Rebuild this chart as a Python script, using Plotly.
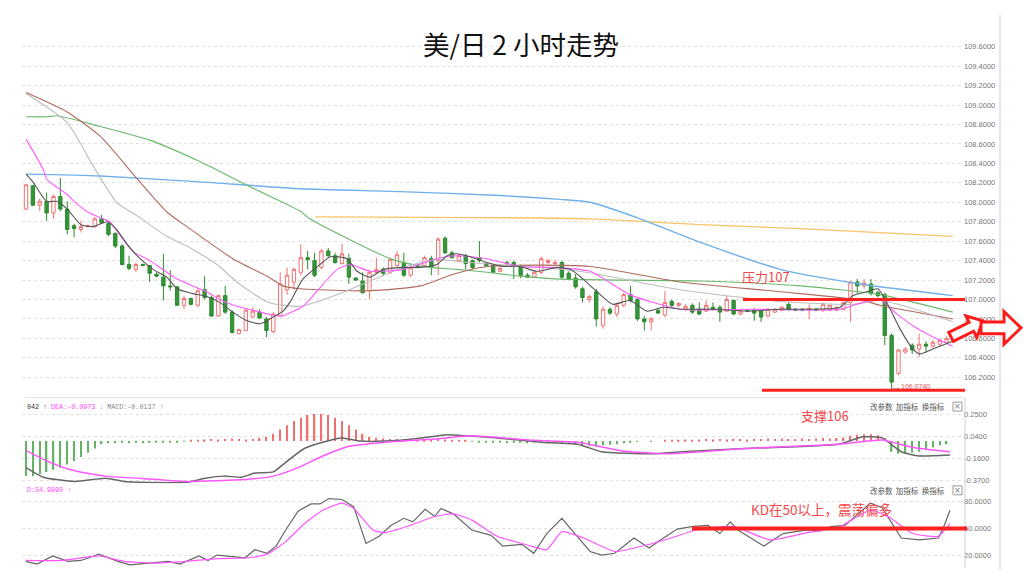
import math
import plotly.graph_objects as go

# ---------------- data ----------------
opens = [107.93,108.17,107.97,108.01,107.89,108.06,107.93,107.76,107.72,107.75,
         107.75,107.83,107.78,107.68,107.55,107.36,107.31,107.36,107.35,107.26,
         107.23,107.14,107.13,106.94,107.01,106.94,107.10,107.02,106.83,107.04,
         106.87,106.65,106.68,106.82,106.87,106.80,106.67,106.83,107.10,107.18,
         107.28,107.43,107.40,107.33,107.50,107.45,107.37,107.42,107.22,107.19,
         107.09,107.28,107.31,107.28,107.35,107.38,107.25,107.35,107.35,107.42,
         107.40,107.63,107.48,107.40,107.45,107.40,107.43,107.37,107.35,107.29,
         107.38,107.38,107.35,107.25,107.23,107.28,107.38,107.37,107.38,107.27,
         107.22,107.11,107.00,107.08,106.73,106.90,106.85,106.94,107.05,107.00,
         106.80,106.77,106.89,106.84,106.98,106.94,106.90,106.94,106.90,106.88,
         106.92,106.92,106.88,106.99,106.85,106.89,106.89,106.89,106.83,106.87,
         106.89,106.95,106.90,106.90,106.89,106.90,106.89,106.89,106.89,106.90,
         106.97,107.18,107.14,107.16,107.07,107.05,106.63,106.24,106.46,106.53,
         106.49,106.54,106.52,106.54,106.56]
highs = [108.19,108.18,108.04,108.10,108.08,108.25,108.01,107.78,107.81,107.77,
         107.85,107.87,107.79,107.69,107.57,107.45,107.38,107.37,107.35,107.28,
         107.47,107.30,107.14,107.04,107.02,107.12,107.24,107.04,107.05,107.14,
         106.89,106.70,106.90,106.92,106.90,106.82,106.87,107.28,107.33,107.33,
         107.57,107.50,107.48,107.52,107.53,107.48,107.57,107.47,107.23,107.28,
         107.30,107.43,107.33,107.43,107.50,107.48,107.35,107.37,107.45,107.45,
         107.64,107.65,107.50,107.47,107.47,107.41,107.60,107.38,107.36,107.34,
         107.40,107.40,107.36,107.27,107.30,107.44,107.42,107.41,107.40,107.29,
         107.26,107.13,107.05,107.11,106.93,106.92,106.97,107.07,107.14,107.01,
         106.83,106.82,106.91,107.09,107.00,106.97,106.95,106.96,106.97,106.99,
         106.97,106.94,107.04,107.00,106.89,106.90,106.91,106.90,106.91,106.91,
         106.93,106.97,106.91,106.91,106.95,106.91,106.97,106.94,106.93,106.97,
         107.19,107.21,107.21,107.21,107.09,107.07,106.65,106.49,106.51,106.55,
         106.65,106.57,106.58,106.60,106.62]
lows = [107.92,107.96,107.91,107.81,107.83,107.91,107.67,107.64,107.69,107.74,
        107.74,107.78,107.65,107.53,107.35,107.30,107.28,107.34,107.18,107.23,
        106.99,107.09,106.94,106.90,106.94,106.92,107.00,106.82,106.82,106.85,
        106.65,106.64,106.68,106.81,106.80,106.61,106.65,106.82,107.05,107.10,
        107.25,107.31,107.23,107.31,107.44,107.37,107.36,107.16,107.19,107.06,
        107.00,107.26,107.24,107.26,107.33,107.23,107.23,107.32,107.33,107.25,
        107.25,107.47,107.42,107.38,107.31,107.31,107.38,107.33,107.27,107.28,
        107.35,107.21,107.22,107.22,107.22,107.26,107.36,107.35,107.21,107.20,
        107.11,106.97,106.97,106.72,106.70,106.84,106.82,106.92,106.97,106.78,
        106.68,106.68,106.85,106.82,106.92,106.92,106.88,106.85,106.84,106.87,
        106.89,106.77,106.87,106.84,106.84,106.87,106.78,106.77,106.82,106.86,
        106.88,106.88,106.88,106.88,106.80,106.88,106.87,106.88,106.88,106.89,
        106.77,107.06,107.11,107.04,107.02,106.53,106.074,106.22,106.44,106.44,
        106.41,106.45,106.50,106.52,106.54]
closes = [108.18,107.97,108.01,107.89,108.06,107.93,107.72,107.73,107.75,107.76,
          107.83,107.79,107.67,107.55,107.36,107.32,107.36,107.35,107.27,107.24,
          107.14,107.13,106.94,107.01,106.95,107.09,107.02,106.83,107.04,106.87,
          106.66,106.69,106.89,106.88,106.81,106.68,106.85,107.16,107.25,107.31,
          107.43,107.41,107.25,107.50,107.45,107.38,107.47,107.23,107.20,107.07,
          107.28,107.31,107.27,107.41,107.46,107.25,107.33,107.34,107.43,107.33,
          107.62,107.48,107.43,107.45,107.37,107.33,107.40,107.35,107.28,107.32,
          107.37,107.35,107.25,107.23,107.28,107.42,107.40,107.38,107.23,107.21,
          107.13,107.02,107.03,106.80,106.90,106.86,106.94,107.05,106.99,106.80,
          106.77,106.80,106.86,106.97,106.94,106.96,106.93,106.87,106.85,106.94,
          106.90,106.87,107.00,106.85,106.88,106.88,106.86,106.82,106.90,106.90,
          106.92,106.90,106.89,106.89,106.91,106.89,106.95,106.94,106.92,106.97,
          107.18,107.14,107.17,107.06,107.04,106.63,106.15,106.48,106.49,106.48,
          106.54,106.52,106.56,106.58,106.60]
idx = list(range(len(opens)))

ma5_x = [0,1,3,4.5,6,8,9.8,11.8,13.2,14.7,16.6,18.5,20.5,22,24.3,26.3,28.2,30.1,32.2,34.1,
         35.5,37.4,38.4,40.3,42.8,44.3,46.7,48.2,50.1,52,54.9,57.4,59.8,61.3,62.7,64.6,67.1,69.4,71.9,74.4,
         77.3,79.2,81.1,83.1,85.4,87.9,90.4,92.7,95.2,100,105,109.8,114.6,118.5,120.4,122.4,124,125.8,127.2,129.1,
         130.1,132,134.9]
ma5_y = [108.29,108.21,108.01,108.01,107.93,107.77,107.75,107.80,107.72,107.57,107.42,107.31,107.23,107.11,107.06,107.03,106.97,106.87,106.78,106.75,
         106.80,106.88,106.97,107.21,107.36,107.44,107.42,107.29,107.23,107.31,107.33,107.33,107.36,107.45,107.47,107.44,107.38,107.34,107.34,107.29,
         107.33,107.31,107.21,107.08,106.95,106.99,106.88,106.92,106.90,106.90,106.88,106.90,106.90,106.92,107.04,107.08,107.11,106.90,106.70,106.49,
         106.44,106.49,106.57]
ma10_x = [0,2.5,3,4,6,7,9,11.2,12.2,13.7,15.6,17.6,19.1,22,26.3,28.2,30.7,34.1,35.1,37.4,
          38,40.3,45.3,47.2,50.1,54.9,59.8,62.7,67.1,71.9,76.7,82.1,87.9,95.2,105,118.5,121.8,124.3,126.8,129.1,
          131.6,134.9]
ma10_y = [108.65,108.34,108.24,108.18,108.08,108.01,107.90,107.83,107.80,107.66,107.49,107.42,107.35,107.21,107.08,107.00,106.93,106.87,106.85,106.83,
          106.85,106.93,107.31,107.36,107.29,107.31,107.42,107.45,107.42,107.34,107.33,107.29,107.05,106.90,106.90,106.90,106.97,107.00,106.85,106.73,
          106.63,106.52]
ma20_x = [0,6,9.8,13.2,16.2,20.5,23.4,27.8,30.7,35.3,39.9,45.3,54.9,59.8,64.6,80.6,95.2,109.8,120.4,124.3,128,134.9]
ma20_y = [109.12,108.82,108.37,108.00,107.86,107.65,107.55,107.36,107.18,106.97,106.93,107.05,107.33,107.41,107.38,107.29,107.10,106.98,106.95,106.99,106.93,106.77]
ma30_x = [0,6,10.8,16.2,20.5,23.4,30.1,35.1,37.4,39.9,50.1,57.4,62.2,67.1,82.1,95.2,109.8,121.8,124.3,134.9]
ma30_y = [109.13,108.93,108.68,108.24,107.90,107.75,107.42,107.24,107.14,107.11,107.09,107.14,107.26,107.34,107.34,107.18,107.08,106.99,106.94,106.80]
ma60_x = [0,3.1,4.5,10.8,18,25.3,32.6,39.9,41.3,53.4,58.8,62.7,67.1,71.9,77.7,98.1,112.7,124.3,134.9]
ma60_y = [108.88,108.88,108.89,108.78,108.64,108.42,108.16,107.91,107.83,107.41,107.33,107.31,107.28,107.24,107.21,107.19,107.14,107.05,106.87]
ma120_x = [0,10.8,25.3,39.9,54.4,69,77.7,82.1,89.4,98.1,109.8,121.4,134.9]
ma120_y = [108.29,108.27,108.21,108.14,108.11,108.07,108.03,108.00,107.83,107.59,107.31,107.16,107.04]
ma250_x = [42.1,82.1,98.1,112.7,134.9]
ma250_y = [107.85,107.83,107.77,107.73,107.65]

price_ticks = [106.2,106.4,106.6,106.8,107.0,107.2,107.4,107.6,107.8,108.0,108.2,108.4,108.6,108.8,109.0,109.2,109.4,109.6]

macd_hist = [-0.33,-0.33,-0.31,-0.29,-0.27,-0.25,-0.22,-0.19,-0.15,-0.11,-0.07,
             -0.03,-0.02,-0.02,-0.015,-0.02,-0.015,-0.02,-0.015,-0.01,-0.015,-0.01,-0.01,-0.005,
             0.005,0.01,0.015,0.02,0.015,0.02,0.025,0.02,0.015,0.02,0.03,0.04,
             0.07,0.11,0.15,0.19,0.22,0.245,0.255,0.255,0.245,0.22,0.19,0.15,0.11,0.07,0.04,
             0.03,0.025,0.02,0.02,0.015,0.02,0.015,0.01,0.015,0.02,0.015,0.01,0.01,0.005,
             -0.005,-0.01,-0.015,-0.01,-0.015,-0.02,-0.015,-0.01,-0.02,-0.015,-0.01,-0.015,-0.02,-0.02,-0.025,-0.03,
             -0.04,-0.045,-0.05,-0.04,-0.035,-0.03,-0.02,-0.01,-0.005,0.0,-0.005,0.0,0.005,0.005,
             0.01,0.015,0.01,0.015,0.02,0.015,0.02,0.015,0.02,0.02,0.015,0.02,0.02,0.025,0.02,
             0.025,0.02,0.02,0.025,0.02,0.025,0.03,0.025,0.03,0.035,
             0.05,0.06,0.065,0.065,0.055,0.03,
             -0.10,-0.12,-0.12,-0.11,-0.10,-0.08,-0.06,-0.04,-0.03]
dif_x = [0,2.5,7.1,11.6,14.3,18.8,23.3,26.1,28.8,31.4,33.3,36,37.8,40.5,43.2,46,48.6,52.3,57.6,61.3,64,68.6,74.8,80.3,83.8,91.1,95.6,104.7,118.3,121.8,124.6,127.4,130,134.5]
dif_y = [-0.25,-0.34,-0.38,-0.35,-0.38,-0.39,-0.39,-0.35,-0.33,-0.34,-0.30,-0.29,-0.20,-0.07,-0.01,0.03,0.0,0.0,0.03,0.06,0.05,0.03,-0.01,-0.03,-0.10,-0.12,-0.10,-0.07,-0.03,0.04,0.03,-0.10,-0.14,-0.13]
dea_x = [0,3.5,7.1,11.6,18.8,23.3,32.3,36,39.6,43.2,46.9,52.3,59.5,64.9,73.1,80.3,86.6,93,104.7,118.3,124.6,129.1,134.5]
dea_y = [-0.09,-0.20,-0.28,-0.33,-0.36,-0.38,-0.36,-0.33,-0.25,-0.14,-0.05,-0.01,0.02,0.05,0.01,-0.01,-0.09,-0.12,-0.07,-0.03,0.01,-0.06,-0.10]
macd_ticks = [0.25,0.04,-0.16,-0.37]

k_x = [0,1.6,3.9,6.1,8,10.6,13.4,15.1,17.9,20.7,22.4,25.2,26.5,27.8,31.9,33.3,35.1,36.4,37.8,39.6,
       41.5,42.8,44.1,46,47.7,49.5,51.4,53.1,55,56.3,58.1,59.5,60.4,62.2,64.9,67.7,69.4,72.2,73.9,75.8,
       78,79.9,82.1,83.8,85.7,88.5,90.7,92.4,94.8,97.1,99.3,101,102.5,103.8,107.4,110.2,113.7,115.6,117.3,119.2,
       121.8,122.9,124.6,127.4,130,132.8,133.5,134.5]
k_y = [13,10,19,13,14,21,13,9,11,13,10,19,14,20,17,26,22,30,48,69,
       77,77,83,82,74,33,41,53,61,57,71,63,72,66,48,42,30,32,22,44,
       61,44,24,20,22,39,28,37,49,52,53,44,57,47,30,44,48,47,52,53,
       70,78,73,39,37,39,50,70]
d_x = [0,5.2,10.6,14.3,18.8,23.3,27.8,32.3,35.1,37.8,40.5,43.2,46,47.7,50.5,52.3,55.9,59.5,62.2,64.9,
       68.6,73.1,75.8,78,81.2,85.7,90.2,93.9,97.5,102.9,108.3,113.7,118.3,122.9,125.5,129.1,132.8,134.5]
d_y = [14,14,19,13,11,13,16,17,21,35,55,70,78,72,48,45,53,63,66,59,
       41,31,26,46,39,24,31,39,48,52,37,45,51,70,63,44,41,55]
kd_ticks = [80,50,20]

resistance = 107.0
support = 106.065
kd_level = 49.5
low_value = 106.074
low_index = 126

# ---------------- helpers ----------------
W, H = 1024, 586
def px(x):
    return x / W
def py(y):
    return 1 - y / H

X0, X1 = 22, 963
I0, STEP = 26, 6.87
xr = [(X0 - I0) / STEP, (X1 - I0) / STEP]

RED_UP = '#f07272'
GREEN_DN = '#2e8b2e'
TXT_RED = '#f2474a'
LINE_RED = '#ff2020'

fig = go.Figure()

fig.add_trace(go.Candlestick(
    x=idx, open=opens, high=highs, low=lows, close=closes,
    increasing=dict(line=dict(color=RED_UP, width=1), fillcolor='white'),
    decreasing=dict(line=dict(color=GREEN_DN, width=1), fillcolor='#35953a'),
    whiskerwidth=0, hoverinfo='skip', showlegend=False, xaxis='x', yaxis='y'))

def ma(xs, ys, color, width=1.1, shape='spline'):
    fig.add_trace(go.Scatter(x=xs, y=ys, mode='lines',
                             line=dict(color=color, width=width, shape=shape, smoothing=0.6),
                             hoverinfo='skip', showlegend=False, xaxis='x', yaxis='y'))

ma(ma250_x, ma250_y, '#f7c46a', 1.3)
ma(ma120_x, ma120_y, '#6fb0ea', 1.4)
ma(ma60_x, ma60_y, '#6ab86a', 1.1)
ma(ma30_x, ma30_y, '#b06a5e', 1.1)
ma(ma20_x, ma20_y, '#bdbdbd', 1.1)
ma(ma10_x, ma10_y, '#ff5cff', 1.1)
ma(ma5_x, ma5_y, '#555555', 1.1)

fig.add_trace(go.Bar(x=idx, y=macd_hist, width=0.2,
                     marker=dict(color=['#f07070' if v >= 0 else '#62b462' for v in macd_hist], line=dict(width=0)),
                     hoverinfo='skip', showlegend=False, xaxis='x', yaxis='y2'))
fig.add_trace(go.Scatter(x=dif_x, y=dif_y, mode='lines', line=dict(color='#666666', width=1.5, shape='spline', smoothing=0.5),
                         hoverinfo='skip', showlegend=False, xaxis='x', yaxis='y2'))
fig.add_trace(go.Scatter(x=dea_x, y=dea_y, mode='lines', line=dict(color='#ff55ff', width=1.5, shape='spline', smoothing=0.5),
                         hoverinfo='skip', showlegend=False, xaxis='x', yaxis='y2'))

fig.add_trace(go.Scatter(x=k_x, y=k_y, mode='lines', line=dict(color='#666666', width=1.2),
                         hoverinfo='skip', showlegend=False, xaxis='x', yaxis='y3'))
fig.add_trace(go.Scatter(x=d_x, y=d_y, mode='lines', line=dict(color='#ff55ff', width=1.2, shape='spline', smoothing=0.5),
                         hoverinfo='skip', showlegend=False, xaxis='x', yaxis='y3'))

tickfont = dict(family='Liberation Sans', size=7.5, color='#777777')
grid = dict(showgrid=True, gridcolor='#e0e0e0', griddash='dot', gridwidth=1,
            zeroline=False, showline=False, ticks='', side='right', anchor='x',
            tickfont=tickfont, fixedrange=True)

fig.update_layout(
    width=W, height=H, margin=dict(l=0, r=0, t=0, b=0),
    paper_bgcolor='white', plot_bgcolor='white',
    xaxis=dict(domain=[px(X0), px(X1)], range=xr, visible=False,
               rangeslider=dict(visible=False), fixedrange=True),
    yaxis=dict(domain=[py(395), py(30)], range=[106.031, 109.774],
               tickvals=price_ticks, ticktext=[f"{v:.4f}" for v in price_ticks], **grid),
    yaxis2=dict(domain=[py(485), py(400)], range=[-0.398, 0.400],
                tickvals=macd_ticks, ticktext=[f"{v:.4f}" for v in macd_ticks], **grid),
    yaxis3=dict(domain=[py(572), py(485)], range=[3.3, 100],
                tickvals=kd_ticks, ticktext=[f"{v:.4f}" for v in kd_ticks], **grid),
    showlegend=False,
)

def block_arrow(tail, tip, bw, hw, hl):
    (x0, y0), (x1, y1) = tail, tip
    L = math.hypot(x1 - x0, y1 - y0)
    ux, uy = (x1 - x0) / L, (y1 - y0) / L
    nx, ny = -uy, ux
    bx, by = x1 - ux * hl, y1 - uy * hl
    pts = [(x0 + nx * bw, y0 + ny * bw), (bx + nx * bw, by + ny * bw), (bx + nx * hw, by + ny * hw),
           (x1, y1), (bx - nx * hw, by - ny * hw), (bx - nx * bw, by - ny * bw), (x0 - nx * bw, y0 - ny * bw)]
    return "M " + " L ".join(f"{px(a):.5f},{py(b):.5f}" for a, b in pts) + " Z"

shapes = [
    dict(type='line', xref='paper', yref='paper', x0=px(25), x1=px(963), y0=py(399), y1=py(399), line=dict(color='#e2e2e2', width=1)),
    dict(type='line', xref='paper', yref='paper', x0=px(965), x1=px(965), y0=py(399), y1=py(570), line=dict(color='#d0d0d0', width=1)),
    dict(type='line', xref='paper', yref='paper', x0=px(1000), x1=px(1000), y0=py(15), y1=py(572), line=dict(color='#cfcfcf', width=1)),
    dict(type='line', xref='paper', yref='y', x0=px(743), x1=px(965), y0=resistance, y1=resistance, line=dict(color=LINE_RED, width=3)),
    dict(type='line', xref='paper', yref='y', x0=px(762), x1=px(965), y0=support, y1=support, line=dict(color=LINE_RED, width=3)),
    dict(type='line', xref='paper', yref='y3', x0=px(692), x1=px(967), y0=kd_level, y1=kd_level, line=dict(color=LINE_RED, width=4)),
    dict(type='path', xref='paper', yref='paper', path=block_arrow((951, 338), (983, 322), 5, 12, 13),
         line=dict(color='#ff1a1a', width=3), fillcolor='white'),
    dict(type='path', xref='paper', yref='paper', path=block_arrow((981, 329), (1021, 329), 6, 16.5, 17),
         line=dict(color='#ff1a1a', width=3), fillcolor='white'),
]
for yy in (408, 492):
    shapes.append(dict(type='rect', xref='paper', yref='paper', x0=px(953), x1=px(962), y0=py(yy + 4.5), y1=py(yy - 4.5),
                       line=dict(color='#999999', width=1), fillcolor='white'))
fig.update_layout(shapes=shapes)

ann = []
def text(x, y, t, size, color, family='Noto Sans CJK SC', xanchor='center'):
    ann.append(dict(x=px(x), y=py(y), xref='paper', yref='paper', text=t, showarrow=False,
                    xanchor=xanchor, yanchor='middle', font=dict(size=size, color=color, family=family)))

text(521, 44, '美/日 2 小时走势', 26.5, '#111111')
text(766, 277, '压力107', 13, TXT_RED)
text(825, 417, '支撑106', 13, TXT_RED)
text(821, 511, 'KD在50以上，震荡偏多', 13.5, TXT_RED)
text(25, 408, "<span style='color:#333'>042 ↑</span> <span style='color:#ff44ff'>DEA:-0.0973 ↓</span> "
              "<span style='color:#888'>MACD:-0.0137 ↑</span>", 6.7, '#333333', 'Liberation Mono', 'left')
text(25, 492, 'D:54.9890 ↑', 6.7, '#ff44ff', 'Liberation Mono', 'left')
for yy in (408, 492):
    text(907, yy, '改参数 &nbsp;加指标 &nbsp;换指标', 7.5, '#555555')
    text(957.5, yy, '×', 8, '#777777', 'DejaVu Sans')

ann.append(dict(x=low_index, y=low_value, xref='x', yref='y', text='106.0740', showarrow=True,
                ax=24, ay=-3, arrowhead=2, arrowsize=0.6, arrowwidth=1, arrowcolor='#e05050',
                font=dict(size=7, color='#e05050', family='Liberation Sans')))
fig.update_layout(annotations=ann)

fig.write_html("out.html", config=dict(displayModeBar=False),
               post_script="document.body.style.margin='0';document.body.style.overflow='hidden';")
